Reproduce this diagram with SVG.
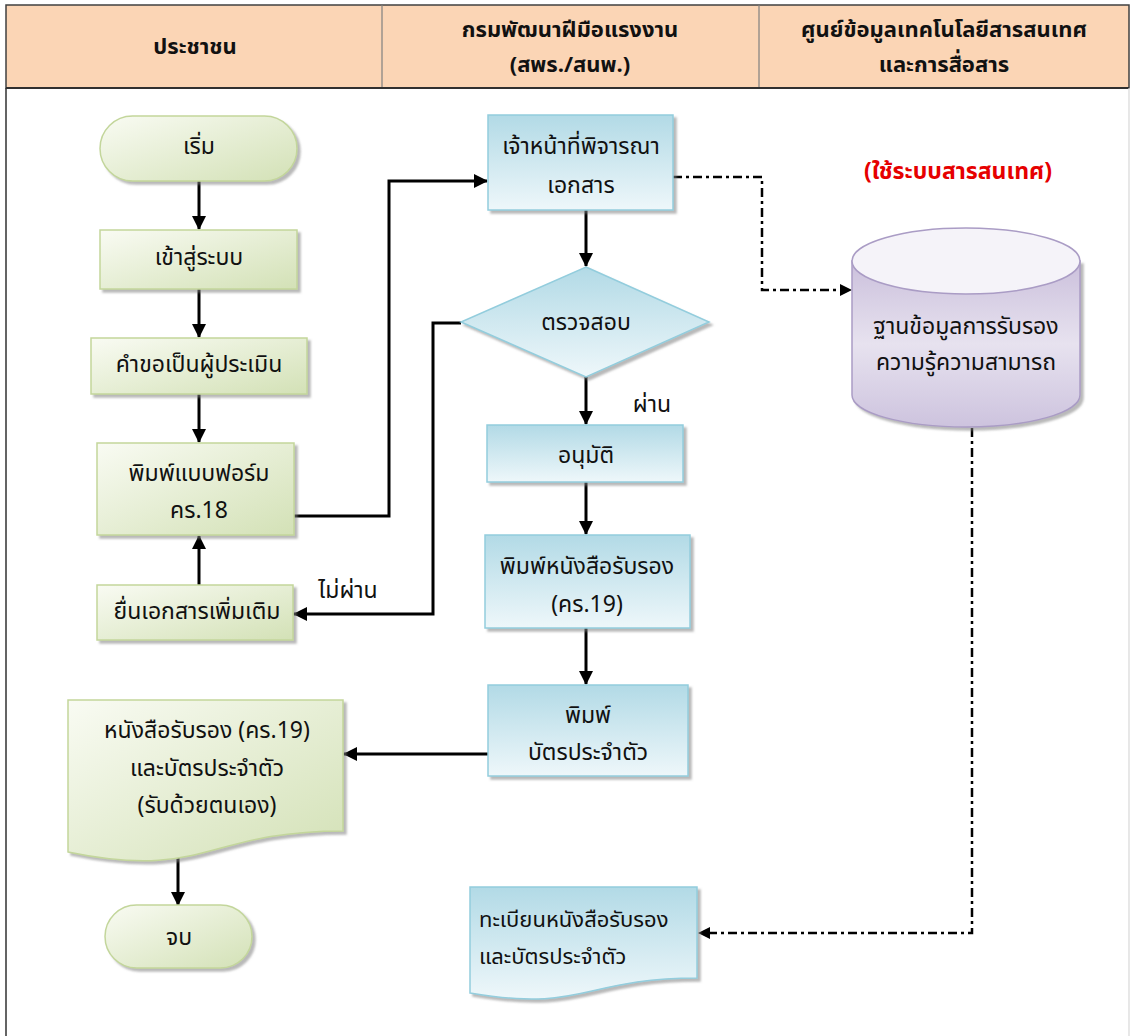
<svg xmlns="http://www.w3.org/2000/svg" width="1131" height="1036" viewBox="0 0 1131 1036">
<defs>
<style>
.t{font-family:"Noto Sans Thai","Noto Sans","DejaVu Sans",sans-serif;font-size:23px;fill:#111;text-anchor:middle;dominant-baseline:central}
.h{font-family:"Noto Sans Thai","Noto Sans","DejaVu Sans",sans-serif;font-size:22px;font-weight:bold;fill:#111;text-anchor:middle;dominant-baseline:central}
.green{fill:url(#gGreen);stroke:#c3d69b;stroke-width:1.5;filter:url(#sh)}
.blue{fill:url(#gBlue);stroke:#93cddd;stroke-width:1.5;filter:url(#sh)}
.ln{fill:none;stroke:#000;stroke-width:3;marker-end:url(#arr)}
.dd{fill:none;stroke:#000;stroke-width:2.5;stroke-dasharray:9 4 3 4}
</style>
<linearGradient id="gGreen" x1="0" y1="0" x2="1" y2="1">
<stop offset="0" stop-color="#f9fbf3"/><stop offset="1" stop-color="#d3e1b6"/>
</linearGradient>
<linearGradient id="gBlue" x1="0" y1="0" x2="0" y2="1">
<stop offset="0" stop-color="#b2dae6"/><stop offset="1" stop-color="#eef7fa"/>
</linearGradient>
<linearGradient id="gPurple" x1="0" y1="0" x2="0" y2="1">
<stop offset="0" stop-color="#cbc0dc"/><stop offset="0.5" stop-color="#e7e2ef"/><stop offset="1" stop-color="#cdc3de"/>
</linearGradient>
<filter id="sh" x="-10%" y="-10%" width="125%" height="130%">
<feDropShadow dx="3" dy="3" stdDeviation="1.2" flood-color="#7f7f7f" flood-opacity="0.55"/>
</filter>
<marker id="arr" markerUnits="userSpaceOnUse" markerWidth="14" markerHeight="14" refX="13" refY="7" orient="auto">
<path d="M0,0 L14,7 L0,14 z" fill="#000"/>
</marker>
</defs>

<rect width="1131" height="1036" fill="#fff"/>

<g id="frame">
<rect x="6" y="5" width="1123" height="83" fill="#fbd5b5" stroke="#404040" stroke-width="1.5"/>
<line x1="382" y1="5" x2="382" y2="88" stroke="#808080" stroke-width="1.2"/>
<line x1="759" y1="5" x2="759" y2="88" stroke="#808080" stroke-width="1.2"/>
<line x1="6" y1="88" x2="1129" y2="88" stroke="#303030" stroke-width="2"/>
<line x1="6" y1="88" x2="6" y2="1036" stroke="#303030" stroke-width="1.5"/>
<line x1="1129" y1="88" x2="1129" y2="1036" stroke="#d8d8d8" stroke-width="1.2"/>
<text class="h" x="195" y="47">ประชาชน</text>
<text class="h" x="570" y="30">กรมพัฒนาฝีมือแรงงาน</text>
<text class="h" x="570" y="65">(สพร./สนพ.)</text>
<text class="h" x="944" y="30">ศูนย์ข้อมูลเทคโนโลยีสารสนเทศ</text>
<text class="h" x="944" y="65">และการสื่อสาร</text>
</g>

<g id="connectors">
<line class="ln" x1="199" y1="181" x2="199" y2="229"/>
<line class="ln" x1="199" y1="289" x2="199" y2="337"/>
<line class="ln" x1="199" y1="394" x2="199" y2="442"/>
<line class="ln" x1="199" y1="585" x2="199" y2="536"/>
<polyline class="ln" points="294,516 389,516 389,181 487,181"/>
<line class="ln" x1="586" y1="210" x2="586" y2="266"/>
<polyline class="ln" points="461,323 433,323 433,614 294,614"/>
<line class="ln" x1="586" y1="377" x2="586" y2="424"/>
<line class="ln" x1="586" y1="482" x2="586" y2="534"/>
<line class="ln" x1="586" y1="628" x2="586" y2="684"/>
<line class="ln" x1="488" y1="754" x2="344" y2="754"/>
<line class="ln" x1="178" y1="856" x2="178" y2="905"/>
<polyline class="dd" points="673,177 762,177 762,290 842,290"/>
<path d="M840,284 L852,290 L840,296 z" fill="#000"/>
<polyline class="dd" points="972,428 972,933 710,933"/>
<path d="M710,927 L698,933 L710,939 z" fill="#000"/>
<text class="t" x="348" y="591">ไม่ผ่าน</text>
<text class="t" x="652" y="405">ผ่าน</text>
</g>

<g id="start">
<rect class="green" x="100" y="116" width="197" height="65" rx="32.5"/>
<text class="t" x="199" y="147">เริ่ม</text>
</g>
<g id="login">
<rect class="green" x="100" y="230" width="197" height="59"/>
<text class="t" x="199" y="258">เข้าสู่ระบบ</text>
</g>
<g id="request">
<rect class="green" x="91" y="338" width="216" height="56"/>
<text class="t" x="199" y="365">คำขอเป็นผู้ประเมิน</text>
</g>
<g id="printform">
<rect class="green" x="97" y="443" width="197" height="92"/>
<text class="t" x="199" y="474">พิมพ์แบบฟอร์ม</text>
<text class="t" x="199" y="511">คร.18</text>
</g>
<g id="submitmore">
<rect class="green" x="97" y="585" width="196" height="55"/>
<text class="t" x="197" y="612">ยื่นเอกสารเพิ่มเติม</text>
</g>
<g id="certdoc">
<path class="green" d="M68,700 H343 V831 C205.5,831 205.5,880.5 68,852 Z"/>
<text class="t" x="207" y="731">หนังสือรับรอง (คร.19)</text>
<text class="t" x="207" y="769">และบัตรประจำตัว</text>
<text class="t" x="207" y="806">(รับด้วยตนเอง)</text>
</g>
<g id="end">
<rect class="green" x="105" y="905" width="147" height="63" rx="31.5"/>
<text class="t" x="179" y="938">จบ</text>
</g>

<g id="review">
<rect class="blue" x="488" y="115" width="185" height="95"/>
<text class="t" x="581" y="147">เจ้าหน้าที่พิจารณา</text>
<text class="t" x="581" y="186">เอกสาร</text>
</g>
<g id="check">
<path class="blue" d="M586,267 L709,322 L586,377 L461,322 Z"/>
<text class="t" x="586" y="323">ตรวจสอบ</text>
</g>
<g id="approve">
<rect class="blue" x="487" y="425" width="196" height="57"/>
<text class="t" x="586" y="456">อนุมัติ</text>
</g>
<g id="printcert">
<rect class="blue" x="485" y="535" width="205" height="93"/>
<text class="t" x="587" y="567">พิมพ์หนังสือรับรอง</text>
<text class="t" x="587" y="605">(คร.19)</text>
</g>
<g id="printcard">
<rect class="blue" x="488" y="685" width="200" height="91"/>
<text class="t" x="588" y="716">พิมพ์</text>
<text class="t" x="588" y="753">บัตรประจำตัว</text>
</g>
<g id="registry">
<path class="blue" d="M470,887 H697 V978 C583.5,978 583.5,1012.7 470,993 Z"/>
<text class="t" x="479" y="920" style="text-anchor:start;font-size:22px">ทะเบียนหนังสือรับรอง</text>
<text class="t" x="479" y="957" style="text-anchor:start;font-size:22px">และบัตรประจำตัว</text>
</g>

<g id="label-system">
<text class="h" x="958" y="172" style="fill:#e60000;font-size:23px">(ใช้ระบบสารสนเทศ)</text>
</g>
<g id="database">
<path d="M852,261 V395 A114,32 0 0 0 1080,395 V261 Z" fill="url(#gPurple)" stroke="#aa9cc5" stroke-width="1.5" filter="url(#sh)"/>
<ellipse cx="966" cy="261" rx="114" ry="33" fill="#f5f3f9" stroke="#aa9cc5" stroke-width="1.5"/>
<text class="t" x="966" y="327">ฐานข้อมูลการรับรอง</text>
<text class="t" x="966" y="363">ความรู้ความสามารถ</text>
</g>
</svg>
